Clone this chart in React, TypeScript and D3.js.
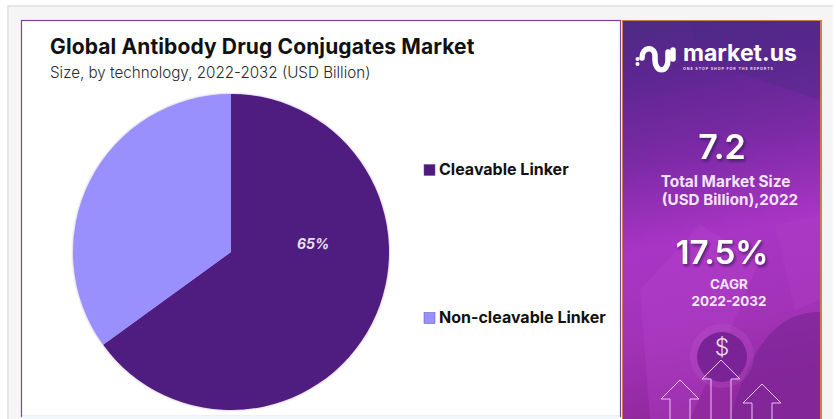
import React from "react";
import * as d3 from "d3";

const categories = ["Cleavable Linker", "Non-cleavable Linker"];
const shares = [65, 35];
const sliceColors = ["#4f1a80", "#9a90fd"];
const legendY = [170, 318];
const titleText = "Global Antibody Drug Conjugates Market";
const subtitleText = "Size, by technology, 2022-2032 (USD Billion)";
const marketSize = "7.2";
const marketCaption = ["Total Market Size", "(USD Billion),2022"];
const growthRate = "17.5%";
const growthCaption = ["CAGR", "2022-2032"];

const FONT = "Inter, 'Open Sans', sans-serif";

// Upward outlined arrow used in the side panel's decoration
function arrowPath(cx: number, tipY: number, base: number) {
  const head = 19;
  const half = 19;
  const stem = 10;
  return `M${cx - stem} ${base}V${tipY + head}H${cx - half}L${cx} ${tipY}L${cx + half} ${tipY + head}H${cx + stem}V${base}`;
}

export default function App() {
  const cx = 231;
  const cy = 252;
  const r = 158;
  const arcs = d3.pie<number>().sort(null)(shares);
  const arc = d3.arc<d3.PieArcDatum<number>>().innerRadius(0).outerRadius(r);

  return (
    <svg
      width={836}
      height={419}
      viewBox="0 0 836 419"
      style={{ position: "absolute", left: 0, top: 0, display: "block" }}
    >
      <defs>
        <linearGradient id="sideBg" x1="0" y1="0" x2="0.1" y2="1">
          <stop offset="0" stopColor="#4d2b85" />
          <stop offset="0.14" stopColor="#5c2690" />
          <stop offset="0.36" stopColor="#7c2aa6" />
          <stop offset="0.58" stopColor="#a935c4" />
          <stop offset="0.8" stopColor="#a233b8" />
          <stop offset="1" stopColor="#92299f" />
        </linearGradient>
        <filter id="softShadow" x="-20%" y="-20%" width="140%" height="150%">
          <feDropShadow dx="1.5" dy="2" stdDeviation="1.5" floodColor="#2a0a45" floodOpacity="0.7" />
        </filter>
        <filter id="edgeGlow" x="-5%" y="-5%" width="110%" height="110%">
          <feDropShadow dx="0" dy="0" stdDeviation="1" floodColor="#4f1a80" floodOpacity="0.4" />
        </filter>
        <clipPath id="sideClip">
          <rect x={623} y={21} width={197} height={398} />
        </clipPath>
      </defs>

      {/* page frame */}
      <rect x={0} y={0} width={836} height={419} fill="#ffffff" />
      <rect x={7} y={5} width={826} height={414} fill="#e6e6e6" />
      <rect x={9} y={7} width={824} height={412} fill="#f5f5f5" />

      {/* chart panel */}
      <rect x={21.5} y={20.5} width={599} height={396} fill="#ffffff" stroke="#7b45a2" strokeWidth={1.2} />
      <rect x={22} y={416} width={598} height={3} fill="#f2f7fb" />

      <text x={50} y={54} fontFamily={FONT} fontSize={21} fontWeight={700} letterSpacing={0.12} fill="#111111">
        {titleText}
      </text>
      <text x={50} y={78} fontFamily={FONT} fontSize={15.2} fontWeight={300} fill="#2a2a2a">
        {subtitleText}
      </text>

      {/* pie */}
      <g transform={`translate(${cx},${cy})`} filter="url(#edgeGlow)">
        {arcs.map((d, i) => (
          <path key={categories[i]} d={arc(d) ?? ""} fill={sliceColors[i]} />
        ))}
      </g>
      <text
        x={cx + 82}
        y={cy - 7}
        fontFamily={FONT}
        fontSize={14}
        fontWeight={700}
        fontStyle="italic"
        fill="#e8e2f2"
        textAnchor="middle"
        dominantBaseline="middle"
      >
        {shares[0]}%
      </text>

      {/* legend */}
      {categories.map((name, i) => (
        <g key={name}>
          <rect x={424} y={legendY[i] - 5.5} width={11} height={11} fill={sliceColors[i]} stroke="#6a4aa8" strokeWidth={0.5} />
          <text
            x={439}
            y={legendY[i] + 0.5}
            fontFamily={FONT}
            fontSize={16}
            fontWeight={700}
            fill="#111111"
            dominantBaseline="middle"
          >
            {name}
          </text>
        </g>
      ))}

      {/* side panel */}
      <rect x={622} y={20} width={200} height={399} fill="#cf7f45" />
      <g clipPath="url(#sideClip)">
        <rect x={623} y={21} width={197} height={398} fill="url(#sideBg)" />
        <path d="M690 21L820 21V100L700 60Z" fill="#4a2a85" opacity={0.3} />
        <path d="M640 290L700 225L760 260L730 330L690 419H650Z" fill="#b844cf" opacity={0.3} />
        <path d="M775 225L820 215V300L795 310Z" fill="#b23fc6" opacity={0.35} />
        <path d="M820 312C780 312 752 340 730 419H820Z" fill="#7c2596" opacity={0.7} />
        <circle cx={722} cy={356} r={32} fill="#c166d4" opacity={0.2} />
        <circle cx={722} cy={357} r={25} fill="#7a2397" />
        <g fill="none" stroke="#e7c3ef" strokeWidth={1}>
          <path d={arrowPath(721, 360, 419)} />
          <path d={arrowPath(680, 380, 419)} />
          <path d={arrowPath(762, 384, 419)} />
        </g>
      </g>

      {/* logo */}
      <g fill="none" stroke="#ffffff" strokeWidth={5.5} strokeLinecap="round">
        <path d="M642 58C642 46 655 46 655 56V60C655 73 668 73 668 60V52" />
        <path d="M673 50V59" />
      </g>
      <circle cx={637.5} cy={59} r={2} fill="#ffffff" />
      <circle cx={637.5} cy={64} r={2} fill="#ffffff" />
      <text x={683} y={60.5} fontFamily={FONT} fontSize={23} fontWeight={700} fill="#ffffff">
        market.us
      </text>
      <text x={683} y={70} fontFamily={FONT} fontSize={3.7} fontWeight={700} letterSpacing={0.9} fill="#e8dcf0">
        ONE STOP SHOP FOR THE REPORTS
      </text>

      {/* key figures */}
      <g textAnchor="middle" fill="#ffffff" fontFamily={FONT}>
        <text x={722} y={159} fontSize={34} fontWeight={600} filter="url(#softShadow)">
          {marketSize}
        </text>
        <text x={725.5} y={187} fontSize={15.4} fontWeight={700} fill="#f3e5f7">
          {marketCaption[0]}
        </text>
        <text x={730} y={205} fontSize={15.2} fontWeight={700} fill="#f3e5f7">
          {marketCaption[1]}
        </text>
        <text x={722} y={264} fontSize={33} fontWeight={600} filter="url(#softShadow)">
          {growthRate}
        </text>
        <text x={729} y={289} fontSize={13.4} fontWeight={700} fill="#f3e5f7">
          {growthCaption[0]}
        </text>
        <text x={729} y={306} fontSize={13.4} fontWeight={700} fill="#f3e5f7">
          {growthCaption[1]}
        </text>
        <text x={722} y={355} fontSize={23} fontWeight={300} fill="#f1dff5">
          $
        </text>
      </g>
    </svg>
  );
}
